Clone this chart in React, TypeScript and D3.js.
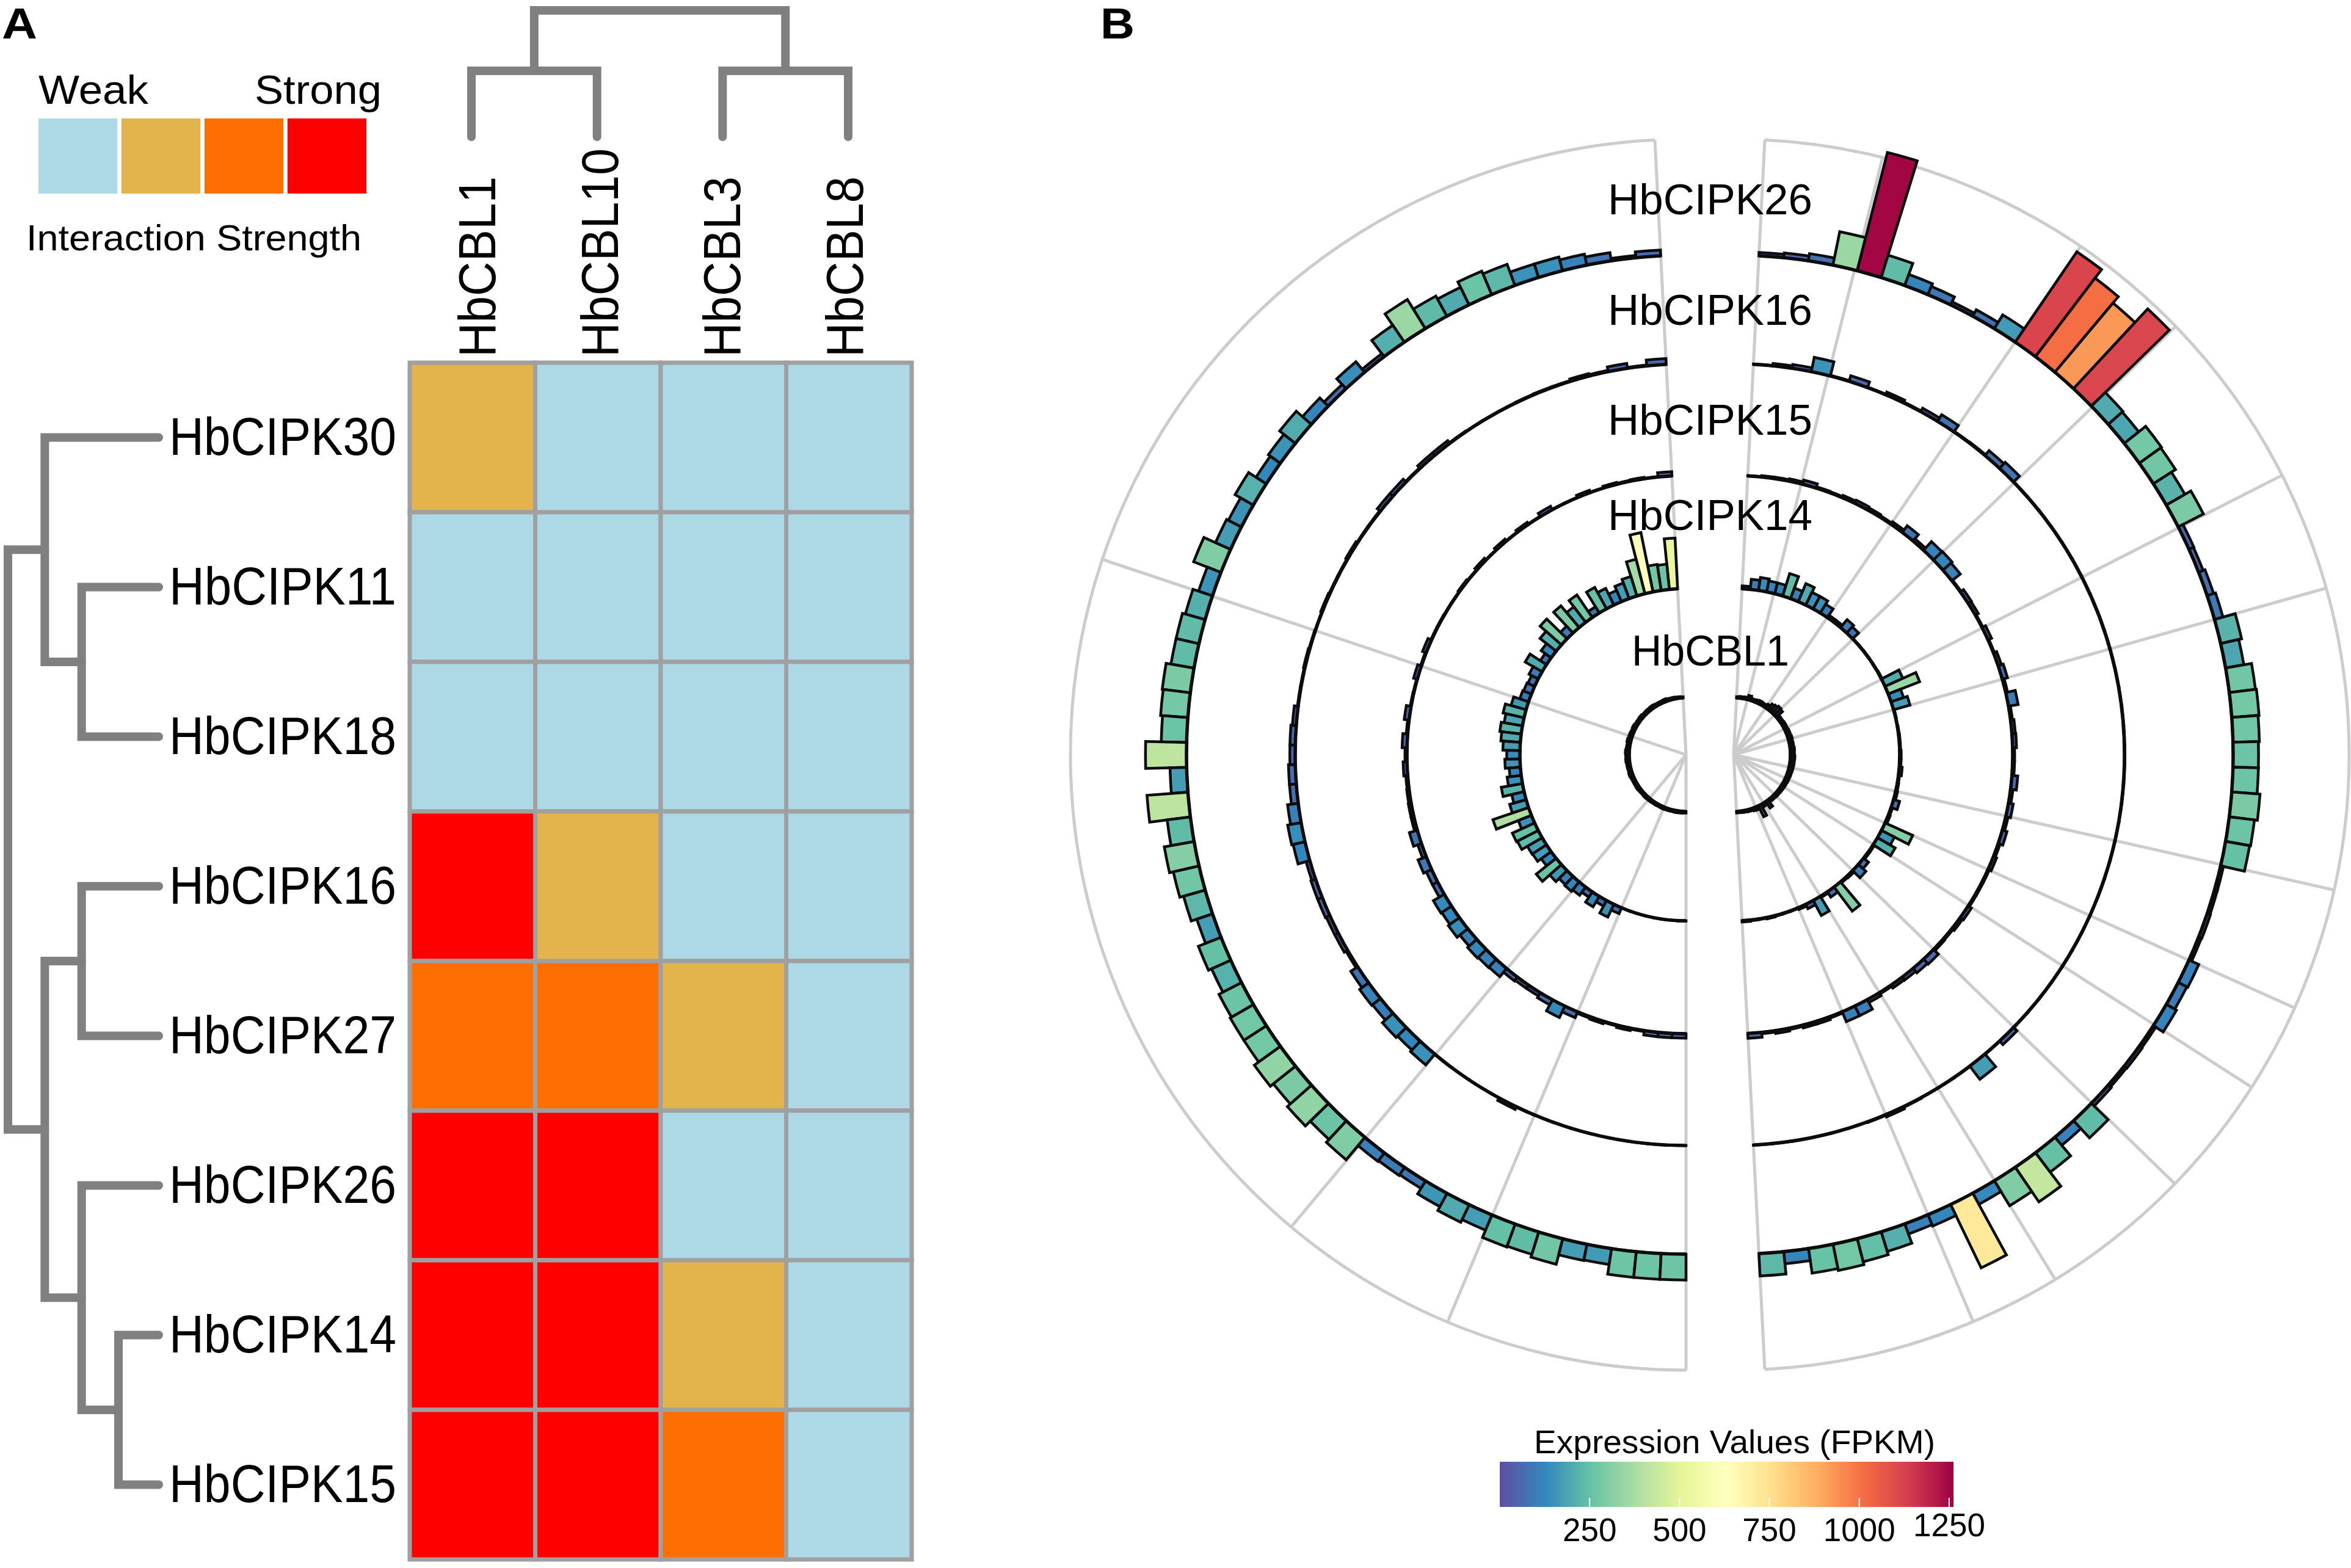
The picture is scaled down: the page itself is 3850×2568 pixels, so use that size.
import React, { useEffect, useRef } from 'react';
import * as d3 from 'd3';

const FONT = '"Liberation Sans", Arial, sans-serif';

// panel A
const cipkRows = ['HbCIPK30', 'HbCIPK11', 'HbCIPK18', 'HbCIPK16', 'HbCIPK27', 'HbCIPK26', 'HbCIPK14', 'HbCIPK15'];
const cblCols = ['HbCBL1', 'HbCBL10', 'HbCBL3', 'HbCBL8'];
const strengthColors = ['#ADD8E6', '#E3B44B', '#FF6E00', '#FF0000'];
const strength = [
  [1, 0, 0, 0],
  [0, 0, 0, 0],
  [0, 0, 0, 0],
  [3, 1, 0, 0],
  [2, 2, 1, 0],
  [3, 3, 0, 0],
  [3, 3, 1, 0],
  [3, 3, 2, 0],
];
const rowTree = [
  ['HbCIPK30', ['HbCIPK11', 'HbCIPK18']],
  [['HbCIPK16', 'HbCIPK27'], ['HbCIPK26', ['HbCIPK14', 'HbCIPK15']]],
];
const colTree = [['HbCBL1', 'HbCBL10'], ['HbCBL3', 'HbCBL8']];

// panel B, index 0 sits at the top of each half
const ringNames = ['HbCBL1', 'HbCIPK14', 'HbCIPK15', 'HbCIPK16', 'HbCIPK26'];
const leftCBL1 = [12, 16, 14, 20, 16, 22, 28, 20, 24, 18, 26, 30, 24, 28, 22, 26, 32, 24, 28, 22, 34, 26, 30, 34, 28, 38, 32, 28, 34, 40, 36, 32, 38, 30, 34, 26, 32, 36, 30, 26, 28, 24, 30, 26, 24, 22, 26, 20, 24, 18, 22, 20, 16, 22, 18, 20, 16, 18, 20, 16, 18, 16];
const rightCBL1 = [14, 18, 16, 22, 45, 24, 20, 28, 34, 26, 30, 44, 70, 80, 95, 85, 34, 28, 32, 36, 30, 34, 38, 34, 42, 32, 40, 36, 44, 38, 42, 46, 40, 44, 38, 42, 36, 40, 34, 38, 32, 36, 30, 34, 28, 32, 26, 30, 24, 80, 28, 34, 125, 34, 30, 20, 22, 16, 18, 14, 16];
const left14 = [520, 260, 270, 620, 365, 210, 170, 125, 190, 250, 75, 280, 200, 290, 95, 290, 210, 125, 75, 200, 105, 75, 85, 95, 160, 220, 190, 220, 200, 175, 135, 155, 115, 145, 220, 130, 175, 385, 145, 250, 240, 175, 170, 125, 260, 160, 115, 125, 105, 65, 125, 65, 145, 65, 3, 3, 3, 3, 3, 3, 3, 3];
const right14 = [30, 105, 135, 115, 115, 240, 115, 200, 145, 145, 105, 30, 30, 105, 85, 5, 5, 5, 5, 5, 8, 200, 345, 135, 175, 8, 5, 8, 10, 10, 15, 15, 30, 12, 15, 20, 65, 15, 20, 310, 150, 210, 15, 15, 65, 105, 20, 15, 310, 65, 15, 175, 50, 20, 8, 8, 8, 15, 8, 8, 15];
const left15 = [45, 5, 15, 10, 20, 5, 25, 5, 5, 40, 5, 25, 5, 25, 5, 25, 5, 15, 5, 5, 8, 8, 40, 10, 40, 8, 10, 50, 15, 50, 20, 40, 20, 25, 30, 30, 85, 40, 90, 60, 60, 130, 120, 140, 105, 125, 115, 110, 50, 40, 40, 60, 130, 65, 15, 25, 10, 25, 10, 45, 45, 45];
const right15 = [5, 15, 15, 25, 45, 15, 12, 25, 35, 25, 15, 30, 85, 30, 120, 125, 110, 10, 40, 35, 10, 40, 10, 35, 55, 20, 100, 20, 35, 40, 20, 20, 60, 25, 50, 25, 50, 20, 35, 15, 15, 15, 40, 30, 15, 20, 70, 60, 40, 35, 15, 35, 110, 110, 15, 30, 30, 15, 30, 15, 50];
const left16 = [60, 10, 50, 15, 25, 10, 10, 8, 5, 5, 5, 8, 35, 35, 8, 40, 40, 8, 8, 20, 8, 8, 15, 5, 8, 15, 8, 8, 40, 55, 55, 70, 70, 110, 140, 125, 40, 50, 50, 40, 40, 20, 85, 115, 105, 145, 125, 145, 5, 3, 3, 3, 30, 5, 3, 3, 3, 3, 3, 3, 3, 2];
const right16 = [5, 25, 40, 150, 8, 60, 5, 30, 8, 40, 80, 8, 10, 65, 85, 5, 5, 5, 5, 5, 5, 5, 5, 5, 5, 5, 5, 5, 5, 5, 5, 5, 5, 5, 5, 5, 5, 5, 5, 5, 5, 5, 5, 5, 5, 5, 50, 5, 170, 5, 5, 5, 8, 25, 8, 3, 3, 3, 3, 3, 3];
const left26 = [60, 25, 85, 115, 145, 145, 230, 260, 200, 235, 350, 210, 40, 140, 60, 120, 205, 150, 125, 215, 150, 170, 300, 150, 210, 240, 240, 290, 280, 260, 420, 170, 420, 240, 310, 270, 230, 170, 250, 215, 260, 275, 275, 330, 290, 330, 260, 300, 110, 100, 90, 155, 200, 170, 250, 240, 270, 170, 165, 265, 265, 265];
const right26 = [35, 50, 75, 350, 1250, 240, 120, 90, 35, 75, 165, 1120, 1010, 925, 1115, 200, 190, 280, 270, 220, 290, 55, 50, 70, 90, 220, 190, 270, 280, 270, 260, 260, 290, 260, 250, 30, 30, 35, 30, 110, 100, 120, 30, 35, 30, 40, 240, 110, 250, 430, 300, 130, 720, 125, 110, 210, 245, 275, 255, 125, 230];
const leftRings = [leftCBL1, left14, left15, left16, left26];
const rightRings = [rightCBL1, right14, right15, right16, right26];
const ringRadii = [93, 272, 457, 640, 818];
const ringLabelBaselines = [1090, 868, 712, 532, 351];
const leftSpokes = [-2.9, -71.5, -140.1, -157.2, -180];
const rightSpokes = [2.9, 14, 34.3, 45.9, 63, 74.3, 102.7, 114.3, 122.7, 134.2, 148.5, 157.1, 177.1];
const expressionTicks = [250, 500, 750, 1000, 1250];
const EXPRESSION_MAX = 1262;

const rad = (deg: number) => (deg * Math.PI) / 180;

const App: React.FC = () => {
  const svgRef = useRef<SVGSVGElement>(null);

  useEffect(() => {
    if (!svgRef.current) return;
    const svg = d3.select(svgRef.current);
    svg.selectAll('*').remove();

    // text squeezed to a measured length, the figure's type is narrower than the font
    const label = (
      g: any, s: string, x: number, y: number, size: number,
      len?: number, anchor = 'start', weight = 'normal', rotate = 0,
    ) => {
      const t = g.append('text')
        .attr('transform', `translate(${x},${y}) rotate(${rotate})`)
        .attr('font-family', FONT)
        .attr('font-size', size)
        .attr('font-weight', weight)
        .attr('text-anchor', anchor)
        .attr('fill', '#000')
        .text(s);
      if (len) t.attr('textLength', len).attr('lengthAdjust', 'spacingAndGlyphs');
      return t;
    };

    label(svg, 'A', 3, 63, 70, 58, 'start', 'bold');
    label(svg, 'B', 1802, 63, 70, 56, 'start', 'bold');

    // ---- panel A: heatmap
    const x = d3.scaleBand().domain(cblCols).range([671, 1493]);
    const y = d3.scaleBand().domain(cipkRows).range([594, 2554]);

    const heat = svg.append('g');
    strength.forEach((row, i) => {
      row.forEach((v, j) => {
        heat.append('rect')
          .attr('x', x(cblCols[j]) as number)
          .attr('y', y(cipkRows[i]) as number)
          .attr('width', x.bandwidth())
          .attr('height', y.bandwidth())
          .attr('fill', strengthColors[v])
          .attr('stroke', '#A0A0A0')
          .attr('stroke-width', 7);
      });
    });

    cipkRows.forEach(r => {
      label(svg, r, 277, (y(r) as number) + y.bandwidth() / 2 + 28, 88, 372);
    });

    // column labels do not sit quite on the cell centres
    const colLabelX = d3.scalePoint().domain(cblCols).range([811, 1413]);
    const colLabelLen = [296, 342, 296, 296];
    cblCols.forEach((c, i) => {
      label(svg, c, colLabelX(c) as number, 585, 85, colLabelLen[i], 'start', 'normal', -90);
    });

    // dendrograms
    const treeColor = '#808080';
    const rowRoot = d3.hierarchy<any>(rowTree, d => (Array.isArray(d) ? d : null));
    const rowDepthX = d3.scaleLinear().domain([0, 3]).range([13, 194]);
    const rowY = (n: any): number =>
      n.children
        ? (rowY(n.children[0]) + rowY(n.children[1])) / 2
        : (y(n.data) as number) + y.bandwidth() / 2;
    const rowChildX = (n: any) => (n.children ? rowDepthX(n.depth) : 260);
    rowRoot.descendants().filter(n => n.children).forEach(n => {
      const [a, b] = n.children as any[];
      svg.append('path')
        .attr('d', `M${rowChildX(a)},${rowY(a)}H${rowDepthX(n.depth)}V${rowY(b)}H${rowChildX(b)}`)
        .attr('fill', 'none')
        .attr('stroke', treeColor)
        .attr('stroke-width', 14)
        .attr('stroke-linecap', 'round');
    });

    const colLeafX = d3.scalePoint().domain(cblCols).range([772, 1389]);
    const colRoot = d3.hierarchy<any>(colTree, d => (Array.isArray(d) ? d : null));
    const colDepthY = d3.scaleLinear().domain([0, 1]).range([17, 116]);
    const colX = (n: any): number =>
      n.children ? (colX(n.children[0]) + colX(n.children[1])) / 2 : (colLeafX(n.data) as number);
    const colChildY = (n: any) => (n.children ? colDepthY(n.depth) : 224);
    colRoot.descendants().filter(n => n.children).forEach(n => {
      const [a, b] = n.children as any[];
      svg.append('path')
        .attr('d', `M${colX(a)},${colChildY(a)}V${colDepthY(n.depth)}H${colX(b)}V${colChildY(b)}`)
        .attr('fill', 'none')
        .attr('stroke', treeColor)
        .attr('stroke-width', 14)
        .attr('stroke-linecap', 'round');
    });

    // strength legend
    const legendX = d3.scaleBand().domain(d3.range(4).map(String)).range([63, 600]).paddingInner(0.05).paddingOuter(0);
    strengthColors.forEach((c, i) => {
      svg.append('rect')
        .attr('x', legendX(String(i)) as number)
        .attr('y', 194)
        .attr('width', legendX.bandwidth())
        .attr('height', 123)
        .attr('fill', c);
    });
    label(svg, 'Weak', 63, 170, 67, 180);
    label(svg, 'Strong', 417, 170, 67, 208);
    label(svg, 'Interaction Strength', 43, 410, 60, 549);

    // ---- panel B: two half discs
    const color = d3.scaleLinear<string>()
      .domain(d3.range(11).map(i => (i / 10) * EXPRESSION_MAX))
      .range(d3.schemeSpectral[11].slice().reverse());
    const barHeight = d3.scaleLinear().domain([0, 1250]).range([0, 200]);
    const OUTER = 1008;
    const CY = 1236;

    const drawHalf = (cx: number, a0: number, a1: number, spokes: number[], rings: number[][]) => {
      const g = svg.append('g').attr('transform', `translate(${cx},${CY})`);

      const spoke = d3.lineRadial<[number, number]>().angle(d => d[0]).radius(d => d[1]);
      spokes.forEach(s => {
        g.append('path')
          .attr('d', spoke([[rad(s), 0], [rad(s), OUTER]]))
          .attr('fill', 'none')
          .attr('stroke', '#CCCCCC')
          .attr('stroke-width', 5);
      });
      g.append('path')
        .attr('d', d3.arc()({ innerRadius: OUTER, outerRadius: OUTER, startAngle: rad(a0), endAngle: rad(a1) }))
        .attr('fill', 'none')
        .attr('stroke', '#CCCCCC')
        .attr('stroke-width', 5);

      rings.forEach((values, ringIndex) => {
        const angle = d3.scaleBand<number>().domain(d3.range(values.length)).range([rad(a0), rad(a1)]);
        const arc = d3.arc<number>()
          .innerRadius(ringRadii[ringIndex])
          .outerRadius(v => ringRadii[ringIndex] + barHeight(v));
        values.forEach((v, i) => {
          const start = angle(i) as number;
          g.append('path')
            .attr('d', arc.startAngle(start).endAngle(start + angle.bandwidth())(v))
            .attr('fill', color(v))
            .attr('stroke', '#0c0c0c')
            .attr('stroke-width', 4.5)
            .attr('stroke-linejoin', 'miter');
        });
        // thin bars merge into a solid black line along the base
        g.append('path')
          .attr('d', d3.arc()({
            innerRadius: ringRadii[ringIndex],
            outerRadius: ringRadii[ringIndex],
            startAngle: rad(a0),
            endAngle: rad(a1),
          }))
          .attr('fill', 'none')
          .attr('stroke', '#0c0c0c')
          .attr('stroke-width', 5.5);
      });
    };

    drawHalf(2761, -2.9, -180, leftSpokes, leftRings);
    drawHalf(2839, 2.9, 177.1, rightSpokes, rightRings);

    ringNames.forEach((n, i) => {
      const isCbl = n === 'HbCBL1';
      label(svg, n, isCbl ? 2672 : 2633, ringLabelBaselines[i], 70, isCbl ? 258 : 335);
    });

    // ---- colour bar
    const legend = d3.scaleLinear().domain([0, EXPRESSION_MAX]).range([2456, 3199]);
    const defs = svg.append('defs');
    const grad = defs.append('linearGradient').attr('id', 'fpkm');
    d3.range(21).forEach(i => {
      grad.append('stop')
        .attr('offset', `${i * 5}%`)
        .attr('stop-color', color((i / 20) * EXPRESSION_MAX));
    });
    svg.append('rect')
      .attr('x', legend(0))
      .attr('y', 2394)
      .attr('width', legend(EXPRESSION_MAX) - legend(0))
      .attr('height', 74)
      .attr('fill', 'url(#fpkm)');
    expressionTicks.forEach(t => {
      svg.append('line')
        .attr('x1', legend(t)).attr('x2', legend(t))
        .attr('y1', 2453).attr('y2', 2468)
        .attr('stroke', '#fff')
        .attr('stroke-width', 2);
      label(svg, String(t), legend(t), t === 1250 ? 2516 : 2524, 53, undefined, 'middle');
    });
    label(svg, 'Expression Values (FPKM)', 2512, 2380, 54, 657);
  }, []);

  return (
    <svg
      ref={svgRef}
      width={3850}
      height={2568}
      viewBox="0 0 3850 2568"
      style={{ position: 'absolute', left: 0, top: 0, background: '#fff' }}
    />
  );
};

export default App;
